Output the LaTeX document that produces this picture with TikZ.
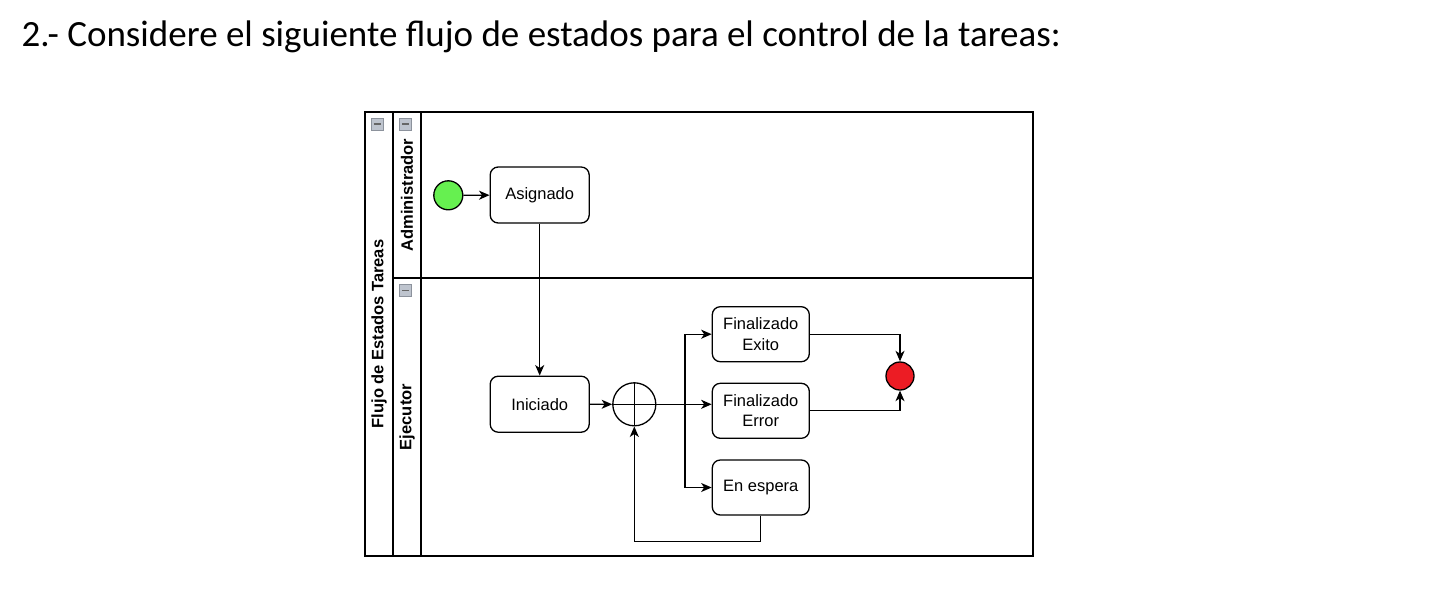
\documentclass[tikz,border=0pt]{standalone}
\usepackage{fontspec}
\setmainfont{Liberation Sans}
\newfontfamily\titlefont{Carlito}
\usetikzlibrary{arrows.meta,calc}
\definecolor{startgreen}{RGB}{102,240,80}
\definecolor{endred}{RGB}{236,28,36}
\definecolor{icongray}{RGB}{190,196,206}
\definecolor{iconborder}{RGB}{140,146,156}
\begin{document}
\begin{tikzpicture}[x=1pt,y=-1pt,
  line width=1.3pt,
  task/.style={draw, rounded corners=8pt, minimum width=99pt, minimum height=56pt, inner sep=0pt, align=center, font=\fontsize{16.5}{20.5}\selectfont, line width=1.3pt},
  flow/.style={-{Stealth[length=10.5pt,width=9pt,inset=3pt]}, line width=1.3pt},
  hdr/.style={rotate=90, font=\bfseries\fontsize{16.5}{20}\selectfont, inner sep=0pt},
  poolline/.style={line width=1.5pt},
  collapse/.style={draw=iconborder, fill=icongray, minimum size=12pt, inner sep=0pt, line width=0.8pt,
    path picture={\draw[line width=1.8pt, black!60] ([xshift=2.5pt]path picture bounding box.west) -- ([xshift=-2.5pt]path picture bounding box.east);}}
]
\useasboundingbox (0,0) rectangle (1440,592);
\fill[white] (0,0) rectangle (1440,592);

% title
\node[anchor=base west, inner sep=0pt, font=\titlefont\fontsize{37}{42}\selectfont] (title) at (21,46) {2.- Considere el siguiente flujo de estados para el control de la tareas:};

% pool
\draw[poolline] (365,112) rectangle (1033,556);
\draw[poolline] (393,112) -- (393,556);
\draw[poolline] (421,112) -- (421,556);
\draw[poolline] (393,278) -- (1033,278);

\node[hdr] (pooltxt) at (379,334) {Flujo de Estados Tareas};
\node[hdr] (lane1txt) at (407,195) {Administrador};
\node[hdr] (lane2txt) at (407,417) {Ejecutor};

\node[collapse] (ic1) at (377,124) {};
\node[collapse] (ic2) at (405.5,124) {};
\node[collapse] (ic3) at (405.5,290.5) {};

% events
\node[circle, draw, fill=startgreen, minimum size=29pt, inner sep=0pt, line width=1.3pt] (start) at (448.3,195.3) {};
\node[circle, draw, fill=endred, minimum size=28pt, inner sep=0pt, line width=1.3pt] (end) at (900,376) {};

% tasks
\node[task] (asig) at (539.7,195) {Asignado};
\node[task] (inic) at (539.7,404.2) {Iniciado};
\node[task, minimum width=97pt, minimum height=55pt] (exito) at (760.8,334.2) {Finalizado\\Exito};
\node[task, minimum width=97pt, minimum height=55pt] (error) at (760.8,410.8) {Finalizado\\Error};
\node[task, minimum width=97pt, minimum height=55pt] (espera) at (760.8,487.5) {En espera};

% gateway
\node[circle, draw, minimum size=43pt, inner sep=0pt, line width=1.3pt] (gw) at (634.3,404.3) {};
\draw (gw.north) -- (gw.south);
\draw (gw.west) -- (gw.east);

\coordinate (br) at (685,404.3);
\coordinate (loop) at (760.8,541.7);

% connectors
\draw[flow] (start) -- (asig);
\draw[flow] (asig.south) -- (inic.north);
\draw[flow] (inic.east) -- (gw.west);
\draw[flow] (gw.east) -- (error.west |- gw.east);
\draw[flow] (br) |- (exito.west);
\draw[flow] (br) |- (espera.west);
\draw[flow] (exito.east) -| (end.north);
\draw[flow] (error.east) -| (end.south);
\draw[flow] (espera.south) -- (loop) -| (gw.south);
\end{tikzpicture}
\end{document}
